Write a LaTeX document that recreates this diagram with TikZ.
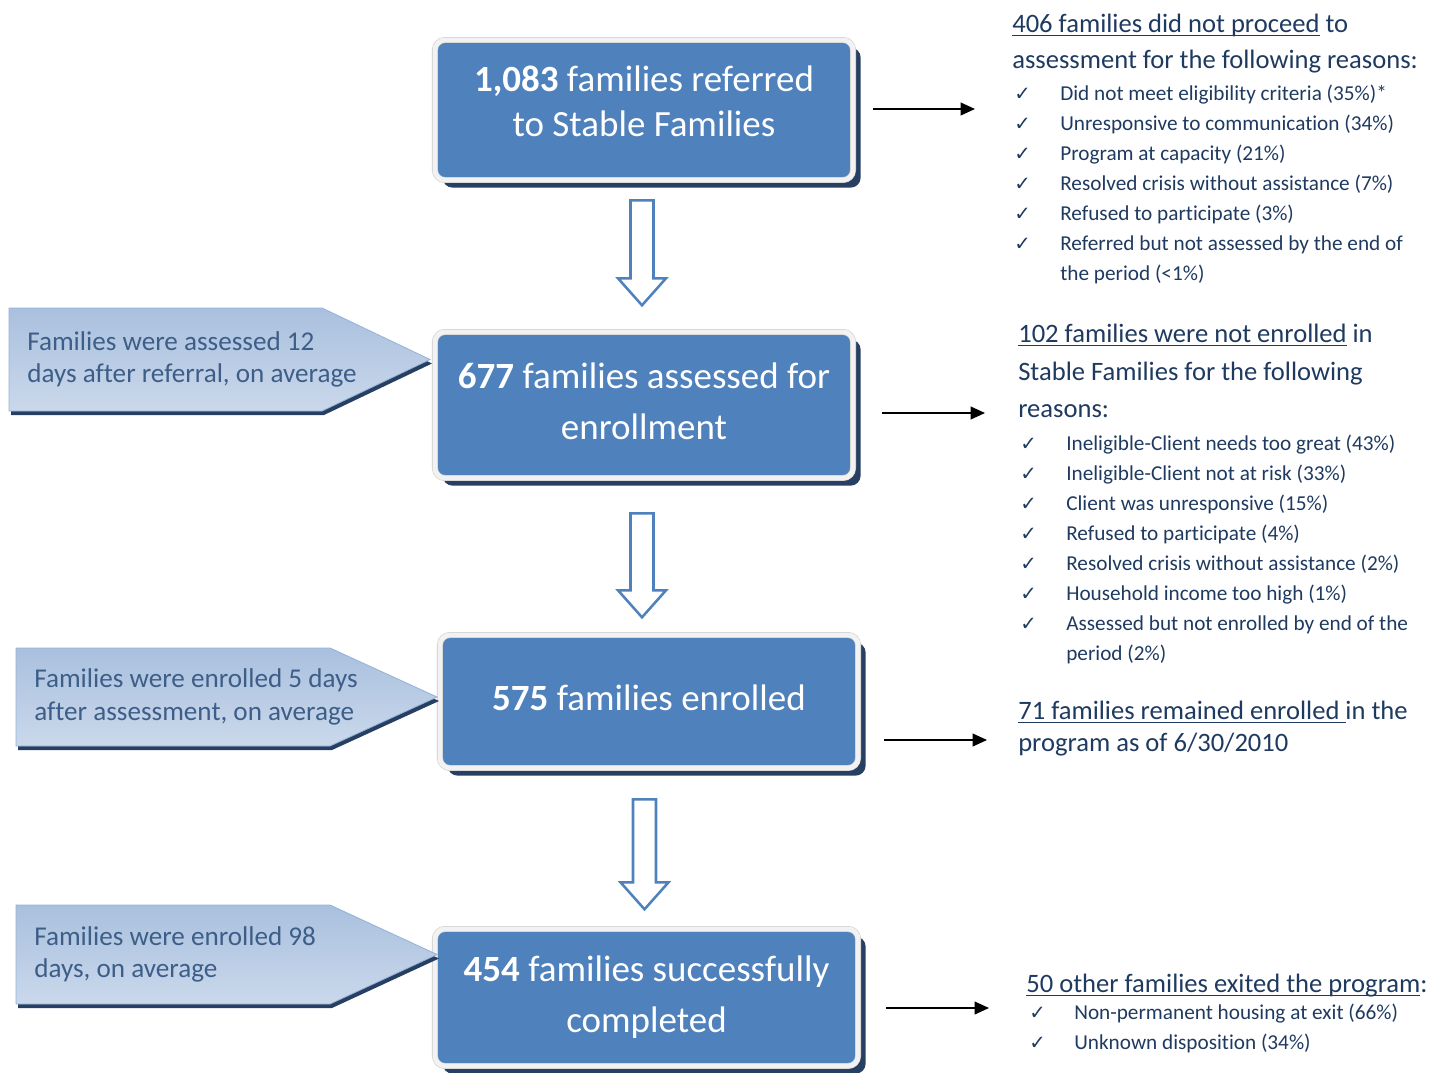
\documentclass[tikz,border=0pt]{standalone}
\usepackage{fontspec}
\setmainfont{Carlito}[Ligatures={NoCommon}]
\newfontfamily\checkfont{DejaVu Sans}
\usetikzlibrary{calc,arrows.meta,shadows}

\newlength{\ulpartlen}
\newcommand{\ulpart}[1]{\settowidth{\ulpartlen}{#1}\rlap{\rule[-2.8pt]{\ulpartlen}{0.9pt}}#1}

\definecolor{stageblue}{HTML}{4F81BD}
\definecolor{framegray}{HTML}{CBCBCB}
\definecolor{framelight}{HTML}{F2F2F2}
\definecolor{shadownavy}{HTML}{263F62}
\definecolor{calloutedge}{HTML}{95B3D7}
\definecolor{callouttop}{HTML}{A9C0DE}
\definecolor{calloutmid}{HTML}{E6EDF6}
\definecolor{calloutbot}{HTML}{CAD8EB}
\definecolor{callouttext}{HTML}{3D5E88}
\definecolor{notetext}{HTML}{1F3A60}

\begin{document}
\begin{tikzpicture}[x=0.025cm, y=-0.025cm,
    stagebox/.style={rectangle, rounded corners=0.25cm, fill=stageblue,
      draw=framegray, double=framelight, double distance=0.12cm, line width=0.4pt,
      text=white, align=center, inner sep=0pt,
      font=\fontsize{26.3}{32}\selectfont,
      drop shadow={shadow xshift=0.19cm, shadow yshift=-0.19cm, fill=shadownavy, opacity=1}},
    hollowarrow/.style={draw=stageblue, line width=1.8pt, fill=white, line join=miter},
    flowarrow/.style={line width=1.1pt, -{Triangle[length=0.36cm, width=0.32cm]}},
    callout/.style={draw=calloutedge, line width=0.6pt, top color=callouttop,
      middle color=calloutmid, bottom color=calloutbot},
    calloutlabel/.style={text=callouttext, inner sep=0pt, anchor=base west,
      font=\fontsize{19.3}{22}\selectfont},
    headtext/.style={text=notetext, inner sep=0pt, anchor=base west,
      font=\fontsize{18.9}{22}\selectfont},
    itemtext/.style={text=notetext, inner sep=0pt, anchor=base west,
      font=\fontsize{15.1}{18}\selectfont},
    checkmark/.style={text=notetext, inner sep=0pt, anchor=base west,
      font=\checkfont\fontsize{14}{16}\selectfont}]
  \useasboundingbox (0,0) rectangle (1446,1072);

  % Stages
  \node[stagebox, minimum width=10.45cm, minimum height=3.5cm] (box1) at (644,110)
    {\textbf{1,083} families referred\\to Stable Families\rule[-12.8pt]{0pt}{12.8pt}};
  \node[stagebox, minimum width=10.45cm, minimum height=3.65cm] (box2) at (644,405)
    {\textbf{677} families assessed for\\[4.3pt]enrollment\rule[-5pt]{0pt}{5pt}};
  \node[stagebox, minimum width=10.45cm, minimum height=3.325cm] (box3) at (649,701.5)
    {\textbf{575} families enrolled\rule[-5pt]{0pt}{5pt}};
  \node[stagebox, minimum width=10.575cm, minimum height=3.425cm] (box4) at (646.5,997.5)
    {\textbf{454} families successfully\\[4.3pt]completed};

  % Hollow arrows between stages
  \foreach \a/\dx/\dt/\l in {box1/-2/20/105, box2/-2/35/104, box3/-4.5/31/110}
    \draw[hollowarrow] ($(\a.south)+(\dx-11.5,\dt)$) -- ++(23,0) -- ++(0,\l-27)
      -- ++(12.5,0) -- ++(-24,27) -- ++(-24,-27) -- ++(12.5,0) -- cycle;

  % Arrows to the notes
  \foreach \b/\s/\e/\y [count=\i] in {box1/20/975/109, box2/29/985/413, box3/26/987/740, box4/28/989/1008} {
    \coordinate (out\i) at (\e,\y);
    \draw[flowarrow] (\b.east |- out\i) ++(\s,0) -- (out\i);
  }

  % Time callouts
  \foreach \xl/\yt/\yb/\xr/\xt in {9/308/411/322/430, 16/648/746/330/437, 16/905/1004/330/437} {
    \fill[shadownavy, shift={(2,4)}] (\xl,\yt) -- (\xr,\yt) -- (\xt,{(\yt+\yb)/2})
      -- (\xr,\yb) -- (\xl,\yb) -- cycle;
    \draw[callout] (\xl,\yt) -- (\xr,\yt) -- (\xt,{(\yt+\yb)/2})
      -- (\xr,\yb) -- (\xl,\yb) -- cycle;
  }
  \node[calloutlabel] (c1a) at (27,350) {Families were assessed 12};
  \node[calloutlabel] (c1b) at (27,382) {days after referral, on average};
  \node[calloutlabel] (c2a) at (34,687) {Families were enrolled 5 days};
  \node[calloutlabel] (c2b) at (34,720) {after assessment, on average};
  \node[calloutlabel] (c3a) at (34,945) {Families were enrolled 98};
  \node[calloutlabel] (c3b) at (34,977) {days, on average};

  % Notes: not assessed
  \node[headtext] (n1a) at (1012,32) {\ulpart{406 families did not proceed} to};
  \node[headtext] (n1b) at (1012,68) {assessment for the following reasons:};
  \foreach \y/\t [count=\i] in {100/Did not meet eligibility criteria (35\%)*,
      130/Unresponsive to communication (34\%), 160/Program at capacity (21\%),
      190/Resolved crisis without assistance (7\%), 220/Refused to participate (3\%),
      250/Referred but not assessed by the end of} {
    \node[checkmark] (k1-\i) at (1014,\y) {✓};
    \node[itemtext] (r1-\i) at (1060,\y) {\t};
  }
  \node[itemtext] (r1-7) at (1060,280) {the period (<1\%)};

  % Notes: not enrolled
  \node[headtext] (n2a) at (1018,342) {\ulpart{102 families were not enrolled} in};
  \node[headtext] (n2b) at (1018,380) {Stable Families for the following};
  \node[headtext] (n2c) at (1018,417) {reasons:};
  \foreach \y/\t [count=\i] in {450/Ineligible-Client needs too great (43\%),
      480/Ineligible-Client not at risk (33\%), 510/Client was unresponsive (15\%),
      540/Refused to participate (4\%), 570/Resolved crisis without assistance (2\%),
      600/Household income too high (1\%), 630/Assessed but not enrolled by end of the} {
    \node[checkmark] (k2-\i) at (1020,\y) {✓};
    \node[itemtext] (r2-\i) at (1066,\y) {\t};
  }
  \node[itemtext] (r2-8) at (1066,660) {period (2\%)};

  % Notes: still enrolled
  \node[headtext] (n3a) at (1018,719) {\ulpart{71 families remained enrolled\ }in the};
  \node[headtext] (n3b) at (1018,751) {program as of 6/30/2010};

  % Notes: exited
  \node[headtext] (n4a) at (1026,992) {\ulpart{50 other families exited the program}:};
  \foreach \y/\t [count=\i] in {1019/Non-permanent housing at exit (66\%),
      1049/Unknown disposition (34\%)} {
    \node[checkmark] (k4-\i) at (1029,\y) {✓};
    \node[itemtext] (r4-\i) at (1074,\y) {\t};
  }
\end{tikzpicture}
\end{document}
